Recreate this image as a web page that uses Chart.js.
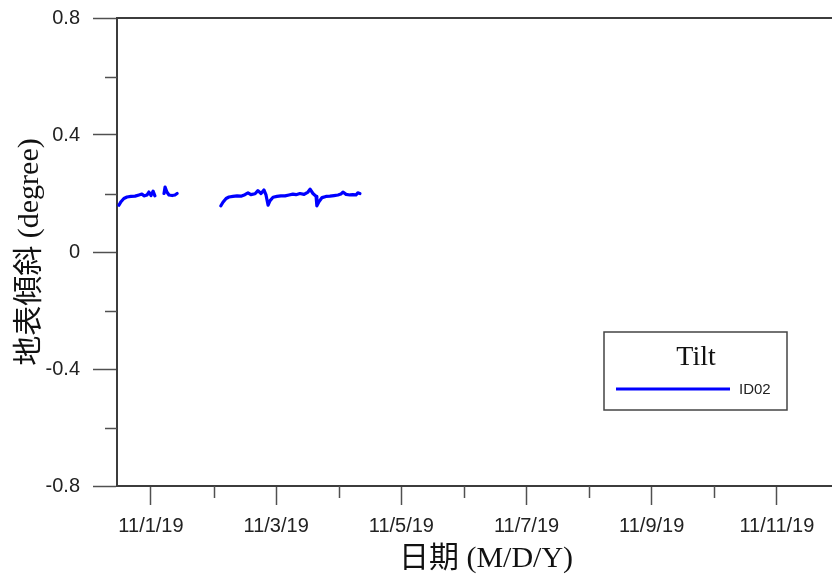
<!DOCTYPE html>
<html>
<head>
<meta charset="utf-8">
<script src="https://cdn.jsdelivr.net/npm/chart.js@4/dist/chart.umd.min.js"></script>
<style>
  html, body { margin: 0; padding: 0; background: #fff; }
  canvas { display: block; }
</style>
</head>
<body>
<canvas id="chart" width="832" height="579"></canvas>
<script>
// x values are hours from 11/1/19 00:00
const seg1Hours = [-12.3, -11.5, -10.4, -9.2, -7.7, -6.1, -4.6, -3.5, -2.7, -1.5, -0.8, 0, 0.8, 1.5];
const seg1Tilt  = [0.160, 0.172, 0.183, 0.188, 0.190, 0.191, 0.195, 0.198, 0.192, 0.195, 0.205, 0.193, 0.208, 0.192];

const seg2Hours = [5.0, 5.4, 6.1, 6.9, 8.1, 9.2, 10.0];
const seg2Tilt  = [0.200, 0.222, 0.205, 0.195, 0.193, 0.195, 0.200];

const seg3Hours = [26.8, 27.6, 28.8, 29.9, 31.4, 33.0, 34.5, 36.0, 37.2, 38.3, 39.9, 41.0, 42.2, 43.3, 44.1,
                   44.9, 45.6, 46.8, 48.3, 49.8, 51.4, 52.9, 54.4, 55.6, 57.1, 58.7, 60.2, 61.0, 62.1, 63.3,
                   63.6, 64.4, 65.6, 67.1, 68.6, 70.2, 71.7, 72.8, 73.6, 74.8, 76.3, 77.4, 78.6, 79.3, 80.1];
const seg3Tilt  = [0.158, 0.170, 0.183, 0.188, 0.190, 0.192, 0.191, 0.196, 0.202, 0.196, 0.199, 0.210, 0.200, 0.212, 0.195,
                   0.160, 0.175, 0.187, 0.190, 0.192, 0.192, 0.195, 0.198, 0.196, 0.200, 0.197, 0.205, 0.215, 0.200, 0.190,
                   0.158, 0.172, 0.186, 0.190, 0.191, 0.193, 0.195, 0.198, 0.205, 0.197, 0.195, 0.196, 0.195, 0.202, 0.200];

// x axis in days from 11/1/19
const xMinDay = -0.543;
const xMaxDay = 10.88;
const xMajorDays = [0, 2, 4, 6, 8, 10];
const xTickLabels = ['11/1/19', '11/3/19', '11/5/19', '11/7/19', '11/9/19', '11/11/19'];
const xMinorDays = [1, 3, 5, 7, 9];

const yMajor = [-0.8, -0.4, 0, 0.4, 0.8];
const yTickLabels = ['-0.8', '-0.4', '0', '0.4', '0.8'];
const yMinor = [-0.6, -0.2, 0.2, 0.6];

const seriesName = 'ID02';
const legendTitle = 'Tilt';
const xTitle = '日期 (M/D/Y)';
const yTitle = '地表傾斜 (degree)';

const axisColor = '#3c3c3c';
const tickColor = '#505050';
const lineColor = '#0000ff';
const titleFont = '30px "Liberation Serif", "Noto Sans CJK TC", serif';

// build the point list, with a null between segments so the line breaks
function toPoints(hours, vals) {
    return hours.map((h, i) => ({ x: h / 24, y: vals[i] }));
}
const points = [
    ...toPoints(seg1Hours, seg1Tilt),
    { x: 3.2 / 24, y: null },
    ...toPoints(seg2Hours, seg2Tilt),
    { x: 18 / 24, y: null },
    ...toPoints(seg3Hours, seg3Tilt)
];

// minor ticks, top frame line, x title and the boxed legend
const extrasPlugin = {
    id: 'extras',
    afterDraw(chart) {
        const ctx = chart.ctx;
        const area = chart.chartArea;
        const xs = chart.scales.x;
        const ys = chart.scales.y;
        ctx.save();

        ctx.strokeStyle = tickColor;
        ctx.lineWidth = 1.5;
        xMinorDays.forEach(d => {
            const px = Math.round(xs.getPixelForValue(d)) + 0.5;
            ctx.beginPath();
            ctx.moveTo(px, area.bottom);
            ctx.lineTo(px, area.bottom + 12);
            ctx.stroke();
        });
        yMinor.forEach(v => {
            const py = Math.round(ys.getPixelForValue(v)) + 0.5;
            ctx.beginPath();
            ctx.moveTo(area.left - 12, py);
            ctx.lineTo(area.left, py);
            ctx.stroke();
        });

        // top frame
        ctx.strokeStyle = axisColor;
        ctx.lineWidth = 2;
        ctx.beginPath();
        ctx.moveTo(area.left, area.top);
        ctx.lineTo(area.right, area.top);
        ctx.stroke();

        // x axis title (sits a little right of the plot centre in the original)
        ctx.fillStyle = '#111';
        ctx.font = titleFont;
        ctx.textAlign = 'center';
        ctx.textBaseline = 'middle';
        ctx.fillText(xTitle, 486, 559);

        // legend box
        const bx = 604, by = 332, bw = 183, bh = 78;
        ctx.fillStyle = '#fff';
        ctx.fillRect(bx, by, bw, bh);
        ctx.strokeStyle = '#444';
        ctx.lineWidth = 1.5;
        ctx.strokeRect(bx, by, bw, bh);

        ctx.fillStyle = '#111';
        ctx.font = '28px "Liberation Serif", serif';
        ctx.textAlign = 'center';
        ctx.fillText(legendTitle, 696, 358);

        const ds = chart.data.datasets[0];
        ctx.strokeStyle = ds.borderColor;
        ctx.lineWidth = 3;
        ctx.beginPath();
        ctx.moveTo(616, 389);
        ctx.lineTo(730, 389);
        ctx.stroke();

        ctx.fillStyle = '#222';
        ctx.font = '15px "Liberation Sans", sans-serif';
        ctx.textAlign = 'left';
        ctx.fillText(ds.label, 739, 390);

        ctx.restore();
    }
};

const ctx = document.getElementById('chart').getContext('2d');
new Chart(ctx, {
    type: 'line',
    data: {
        datasets: [{
            label: seriesName,
            data: points,
            borderColor: lineColor,
            backgroundColor: lineColor,
            borderWidth: 3.2,
            borderJoinStyle: 'round',
            borderCapStyle: 'round',
            pointRadius: 0,
            tension: 0,
            spanGaps: false
        }]
    },
    options: {
        responsive: false,
        animation: false,
        layout: { padding: { top: 18, right: 0, bottom: 0, left: 0 } },
        plugins: {
            legend: { display: false },
            tooltip: { enabled: false }
        },
        scales: {
            x: {
                type: 'linear',
                min: xMinDay,
                max: xMaxDay,
                afterBuildTicks(scale) {
                    scale.ticks = xMajorDays.map(v => ({ value: v }));
                },
                afterFit(scale) {
                    scale.height = 93;
                    scale.paddingLeft = 0;
                    scale.paddingRight = 0;
                },
                ticks: {
                    autoSkip: false,
                    maxRotation: 0,
                    padding: 9,
                    color: '#222',
                    font: { family: '"Liberation Sans", sans-serif', size: 20 },
                    callback(value) {
                        const i = xMajorDays.indexOf(value);
                        return i >= 0 ? xTickLabels[i] : '';
                    }
                },
                grid: {
                    drawOnChartArea: false,
                    tickLength: 19,
                    tickColor: tickColor,
                    tickWidth: 1.5
                },
                border: { color: axisColor, width: 2 }
            },
            y: {
                min: -0.8,
                max: 0.8,
                afterBuildTicks(scale) {
                    scale.ticks = yMajor.map(v => ({ value: v }));
                },
                afterFit(scale) {
                    scale.width = 117;
                    scale.paddingTop = 0;
                    scale.paddingBottom = 0;
                },
                ticks: {
                    padding: 13,
                    color: '#222',
                    font: { family: '"Liberation Sans", sans-serif', size: 20 },
                    callback(value) {
                        const i = yMajor.findIndex(v => Math.abs(v - value) < 1e-9);
                        return i >= 0 ? yTickLabels[i] : '';
                    }
                },
                grid: {
                    drawOnChartArea: false,
                    tickLength: 24,
                    tickColor: tickColor,
                    tickWidth: 1.5
                },
                border: { color: axisColor, width: 2 },
                title: {
                    display: true,
                    text: yTitle,
                    color: '#111',
                    font: { family: '"Liberation Serif", "Noto Sans CJK TC", serif', size: 30 },
                    padding: { top: 12, bottom: 0 }
                }
            }
        }
    },
    plugins: [extrasPlugin]
});
</script>
</body>
</html>
